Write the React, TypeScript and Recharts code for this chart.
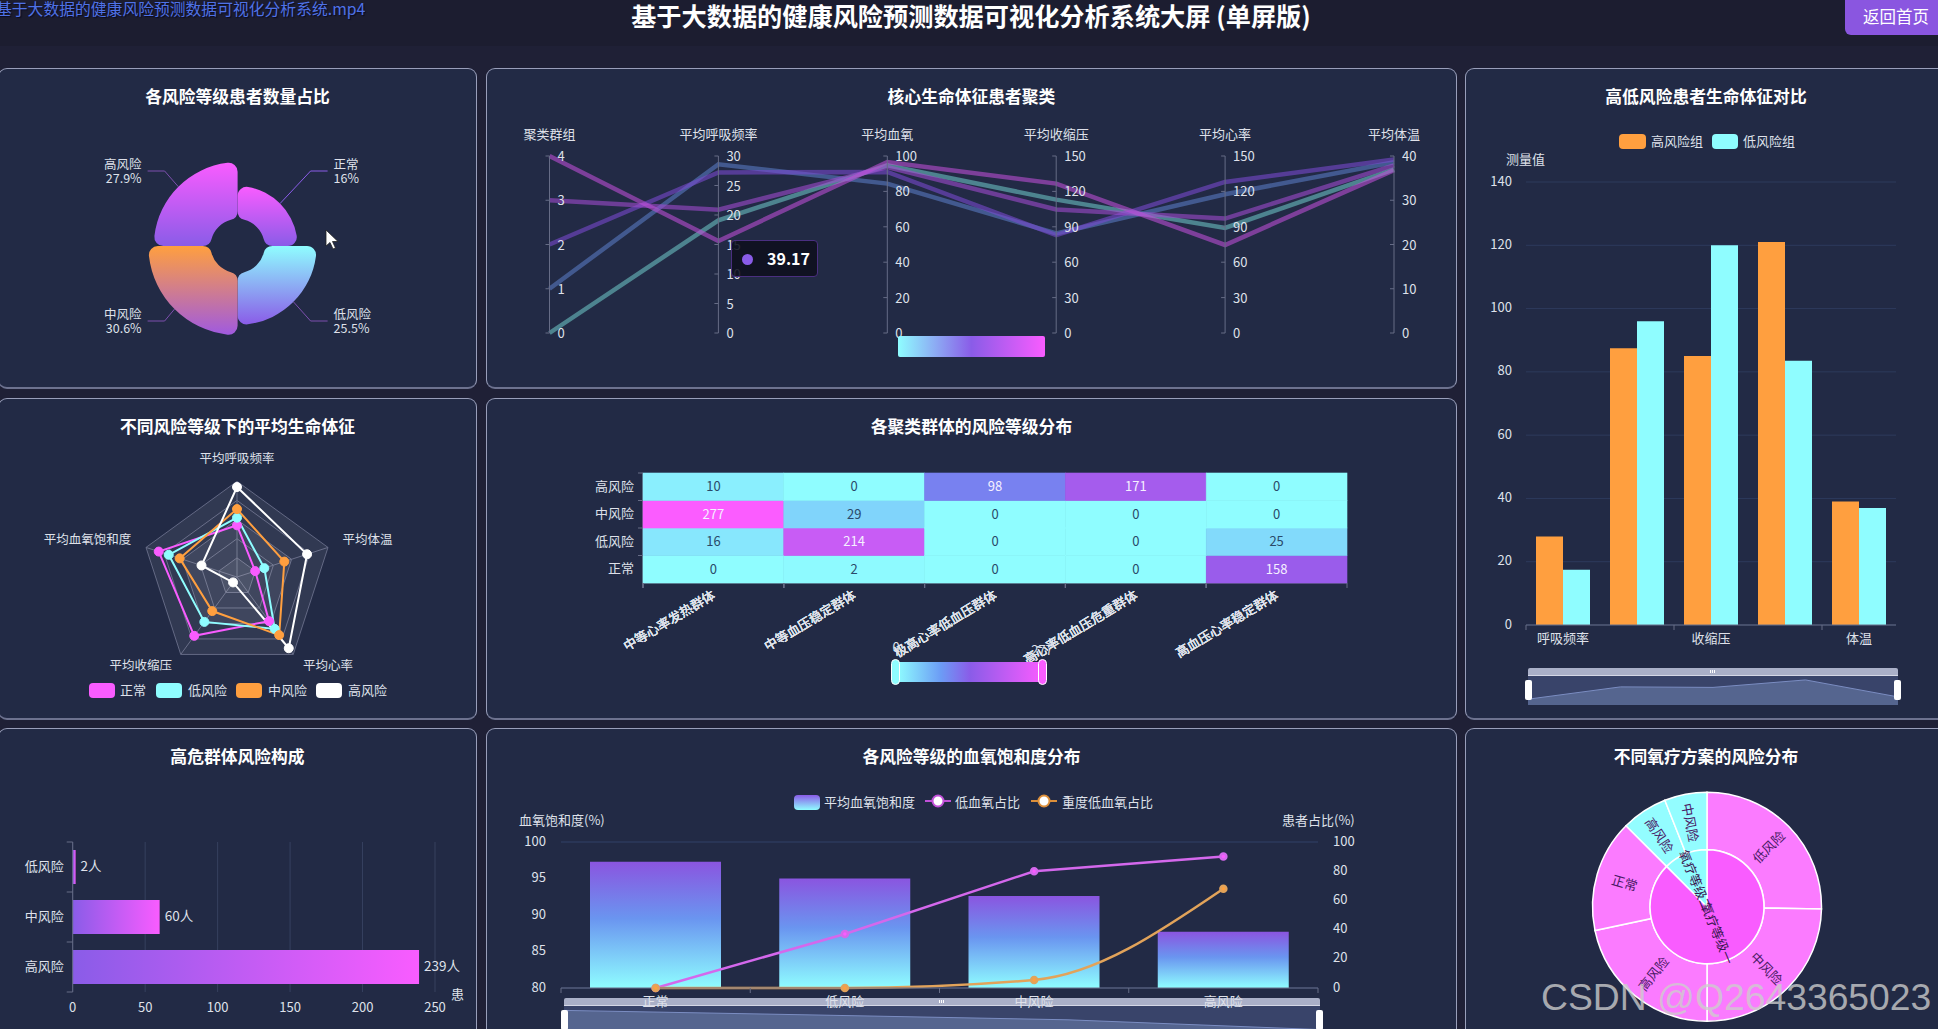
import React from 'react';
import {
  Area, AreaChart, Bar, BarChart, CartesianGrid, Cell, ComposedChart, LabelList, Line, LineChart, Pie, PieChart,
  PolarAngleAxis, PolarGrid, PolarRadiusAxis, Radar, RadarChart, Scatter, ScatterChart, XAxis, YAxis,
} from 'recharts';

const FONT = '"Noto Sans CJK SC","Noto Sans",sans-serif';
const TEXT = '#dfe1ea';
const AXIS = '#666c86';
const GRID = '#2d3a5c';
const CYAN = '#8ffdff';
const PURPLE = '#8a5ce8';
const PINK = '#f95cff';
const ORANGE = '#ff9f3f';

// risk share (rose)
const riskNames = ['正常', '低风险', '中风险', '高风险'];
const riskShares = [16, 25.5, 30.6, 27.9];

// parallel coordinates
const parallelDims = ['聚类群组', '平均呼吸频率', '平均血氧', '平均收缩压', '平均心率', '平均体温'];
const parallelTicks = [
  [0, 1, 2, 3, 4],
  [0, 5, 10, 15, 20, 25, 30],
  [0, 20, 40, 60, 80, 100],
  [0, 30, 60, 90, 120, 150],
  [0, 30, 60, 90, 120, 150],
  [0, 10, 20, 30, 40],
];
const cluster0 = [0, 19.1, 94.7, 113, 89, 37];
const cluster1 = [1, 28.6, 84.4, 84.4, 117.6, 38.6];
const cluster2 = [2, 27.2, 91, 83, 128, 39.2];
const cluster3 = [3, 20.9, 93.8, 104.7, 97, 37.9];
const cluster4 = [4, 15.6, 96.6, 126.6, 74.6, 36.8];
const clusterColors = ['#6cc4c4', '#5a7cc4', '#7a4ad0', '#a24cd0', '#c050d8'];

// high / low comparison
const vitalNames = ['呼吸频率', '血氧', '收缩压', '心率', '体温'];
const highGroup = [28, 87.5, 85, 121, 39];
const lowGroup = [17.5, 96, 120, 83.5, 37];
const vitalTicks = [0, 20, 40, 60, 80, 100, 120, 140];

// radar, scores in % of each axis maximum
const radarAxes = ['平均呼吸频率', '平均体温', '平均心率', '平均收缩压', '平均血氧饱和度'];
const radarNormal = [54, 20, 57, 76, 86];
const radarLow = [62, 30, 67, 58, 75];
const radarMid = [71, 52, 75, 44, 63];
const radarHigh = [94, 77, 92, 7, 39];
const ringLevels = [100, 60, 20];

// heatmap
const clusterGroups = ['中等心率发热群体', '中等血压稳定群体', '极高心率低血压群体', '高心率低血压危重群体', '高血压心率稳定群体'];
const heatLevels = ['正常', '低风险', '中风险', '高风险'];
const heatCounts = [
  [0, 2, 0, 0, 158],
  [16, 214, 0, 0, 25],
  [277, 29, 0, 0, 0],
  [10, 0, 98, 171, 0],
];

// high risk group
const groupLevels = ['低风险', '中风险', '高风险'];
const groupCounts = [2, 60, 239];

// blood oxygen
const oxygenLevels = ['正常', '低风险', '中风险', '高风险'];
const oxygenAvg = [97.3, 95, 92.6, 87.7];
const lowOxygen = [0, 37, 80, 90];
const severeOxygen = [0, 0, 5.5, 68];

// sunburst
const therapyInner = [{name: '氧疗等级一', value: 525}, {name: '氧疗等级二', value: 75}];
const therapyOuter = [
  {name: '低风险', value: 152, parent: 0},
  {name: '中风险', value: 148, parent: 0},
  {name: '高风险', value: 130, parent: 0},
  {name: '正常', value: 95, parent: 0},
  {name: '高风险', value: 39, parent: 1},
  {name: '中风险', value: 36, parent: 1},
];

const parallelRows = parallelDims.map((dim, i) => {
  const max = parallelTicks[i][parallelTicks[i].length - 1];
  return {
    dim,
    c0: cluster0[i] / max,
    c1: cluster1[i] / max,
    c2: cluster2[i] / max,
    c3: cluster3[i] / max,
    c4: cluster4[i] / max,
  };
});
const vitalRows = vitalNames.map((name, i) => ({name, high: highGroup[i], low: lowGroup[i]}));
const radarRows = radarAxes.map((axis, i) => ({
  axis, normal: radarNormal[i], low: radarLow[i], mid: radarMid[i], high: radarHigh[i],
}));
const heatRows = heatLevels.flatMap((level, r) => clusterGroups.map((group, c) => ({group, level, count: heatCounts[r][c]})));
const groupRows = groupLevels.map((name, i) => ({name, count: groupCounts[i]}));
const oxygenRows = oxygenLevels.map((name, i) => ({name, avg: oxygenAvg[i], low: lowOxygen[i], severe: severeOxygen[i]}));

const hex = (c: string) => [1, 3, 5].map(i => parseInt(c.slice(i, i + 2), 16));
const heatStops: [number, string][] = [[0, '#8ffdff'], [0.25, '#6c9cf5'], [0.5, '#8a5ce8'], [1, '#fb5cff']];
function heatColor(count: number) {
  const t = count / 277;
  let i = 0;
  while (i < heatStops.length - 2 && t > heatStops[i + 1][0]) i++;
  const [t0, c0] = heatStops[i];
  const [t1, c1] = heatStops[i + 1];
  const a = hex(c0);
  const b = hex(c1);
  const k = (t - t0) / (t1 - t0);
  return `rgb(${a.map((v, j) => Math.round(v + (b[j] - v) * k)).join(',')})`;
}

function Panel({x, y, w, h, title, children}: any) {
  return (
    <div style={{position: 'absolute', left: x, top: y, width: w, height: h, background: '#222a45', borderRadius: 9}}>
      {children}
      <div style={{
        position: 'absolute', inset: 0, boxSizing: 'border-box', borderRadius: 9, pointerEvents: 'none',
        border: '1px solid rgba(200,204,232,.72)', borderBottom: '2px solid #6d728f',
      }}/>
      <div style={{
        position: 'absolute', left: 0, width: w, top: 15, height: 26, lineHeight: '26px', textAlign: 'center',
        color: '#fff', fontSize: 16.8, fontWeight: 700,
      }}>{title}</div>
    </div>
  );
}

function Swatch({x, y, w = 26, h = 15, bg}: any) {
  return <div style={{position: 'absolute', left: x, top: y, width: w, height: h, background: bg, borderRadius: 4}}/>;
}

function Caption({x, y, anchor = 'start', size = 13, color = TEXT, children}: any) {
  const tx = anchor === 'end' ? '-100%' : anchor === 'middle' ? '-50%' : '0';
  return (
    <div style={{
      position: 'absolute', left: x, top: y - 1.5, transform: `translate(${tx},-50%)`, whiteSpace: 'nowrap',
      fontSize: size, color, lineHeight: 1,
    }}>{children}</div>
  );
}

// echarts style dataZoom strip
function DataZoom({x, y, w, h, data, dataKey, domain}: any) {
  return (
    <div style={{position: 'absolute', left: x, top: y, width: w}}>
      <div style={{height: 7, background: '#aab0c8', borderRadius: '2px 2px 0 0', position: 'relative'}}>
        <div style={{
          position: 'absolute', left: w / 2 - 3, top: 2, width: 6, height: 3,
          background: 'repeating-linear-gradient(90deg,#fff 0 1px,transparent 1px 2px)',
        }}/>
      </div>
      <div style={{position: 'relative', width: w, height: h, background: '#39446a', borderTop: '1px solid #d5d8e6', boxSizing: 'border-box'}}>
        <AreaChart width={w} height={h} data={data} margin={{top: 0, right: 0, bottom: 0, left: 0}}>
          <XAxis dataKey="name" hide/>
          <YAxis hide domain={domain} allowDataOverflow/>
          <Area dataKey={dataKey} type="linear" stroke="#7b8dc2" strokeWidth={1} fill="#55658f" fillOpacity={1} isAnimationActive={false} dot={false}/>
        </AreaChart>
      </div>
      <div style={{position: 'absolute', left: -3, top: 12, width: 7, height: 20, background: '#fff', borderRadius: 2}}/>
      <div style={{position: 'absolute', left: w - 4, top: 12, width: 7, height: 20, background: '#fff', borderRadius: 2}}/>
    </div>
  );
}

const roseRadius = (share: number) => 28 + share * 2;
const roseFills = ['roseNormal', 'roseLow', 'roseMid', 'roseHigh'];

function roseLabel(props: any) {
  const {cx, cy, midAngle, outerRadius, name, share} = props;
  const rad = (midAngle * Math.PI) / 180;
  const sx = Math.cos(rad) > 0 ? 1 : -1;
  const sy = Math.sin(rad) > 0 ? -1 : 1;
  const px = cx + outerRadius * Math.cos(rad);
  const py = cy - outerRadius * Math.sin(rad);
  const ex = cx + sx * 73;
  const ey = cy + sy * 75;
  const anchor = sx > 0 ? 'start' : 'end';
  const tx = cx + sx * 96;
  return (
    <g>
      <polyline points={`${px},${py} ${ex},${ey} ${cx + sx * 90},${ey}`} fill="none" stroke={sx > 0 && sy < 0 ? '#8a5ce8' : '#7d4fae'} strokeWidth={1}/>
      <text x={tx} y={ey - 8} textAnchor={anchor} dominantBaseline="central" fill={TEXT} fontSize={12.5}>{name}</text>
      <text x={tx} y={ey + 6} textAnchor={anchor} dominantBaseline="central" fill={TEXT} fontSize={12.5}>{share}%</text>
    </g>
  );
}

function RoseChart() {
  return (
    <PieChart width={479} height={320} margin={{top: 0, right: 0, bottom: 0, left: 0}}>
      <defs>
        <linearGradient id="roseNormal" x1="0" y1="0" x2="0" y2="1"><stop offset="0" stopColor={PINK}/><stop offset="1" stopColor={PURPLE}/></linearGradient>
        <linearGradient id="roseLow" x1="0" y1="0" x2="0" y2="1"><stop offset="0" stopColor={CYAN}/><stop offset="1" stopColor={PURPLE}/></linearGradient>
        <linearGradient id="roseMid" x1="0" y1="0" x2="0" y2="1"><stop offset="0" stopColor={ORANGE}/><stop offset="1" stopColor="#a05adf"/></linearGradient>
        <linearGradient id="roseHigh" x1="0" y1="0" x2="0" y2="1"><stop offset="0" stopColor={PINK}/><stop offset="1" stopColor={PURPLE}/></linearGradient>
      </defs>
      {riskNames.map((name, i) => (
        <Pie
          key={name}
          data={[{name, share: riskShares[i]}]}
          dataKey="share"
          cx={239.6}
          cy={178}
          startAngle={90 - i * 90}
          endAngle={-i * 90}
          innerRadius={27}
          outerRadius={roseRadius(riskShares[i])}
          cornerRadius={9}
          stroke="none"
          label={roseLabel}
          labelLine={false}
          isAnimationActive={false}
        >
          <Cell fill={`url(#${roseFills[i]})`}/>
        </Pie>
      ))}
    </PieChart>
  );
}

// one tick draws the whole parallel axis, x comes from the point scale
const PAR_TOP = 88;
const PAR_BOTTOM = 265;
function ParallelTick({x, index, payload}: any) {
  const ticks = parallelTicks[index];
  const max = ticks[ticks.length - 1];
  return (
    <g>
      <text x={x} y={65} textAnchor="middle" dominantBaseline="central" fill={TEXT} fontSize={13}>{payload.value}</text>
      <line x1={x} x2={x} y1={PAR_TOP} y2={PAR_BOTTOM} stroke={AXIS}/>
      {ticks.map(t => {
        const ty = PAR_BOTTOM - (t / max) * (PAR_BOTTOM - PAR_TOP);
        return (
          <g key={t}>
            <line x1={x - 4} x2={x} y1={ty} y2={ty} stroke={AXIS}/>
            <text x={x + 8} y={ty - 0.5} dominantBaseline="central" fill={TEXT} fontSize={13}>{t}</text>
          </g>
        );
      })}
    </g>
  );
}

function ParallelChart() {
  return (
    <LineChart width={971} height={320} data={parallelRows} margin={{top: PAR_TOP - 30, right: 63, bottom: 55, left: 63.5}}>
      <XAxis dataKey="dim" orientation="top" height={30} axisLine={false} tickLine={false} interval={0} tick={<ParallelTick/>}/>
      <YAxis hide domain={[0, 1]}/>
      {clusterColors.map((color, i) => (
        <Line key={color} dataKey={`c${i}`} type="linear" stroke={color} strokeWidth={4.5} strokeOpacity={0.58} dot={false} isAnimationActive={false}/>
      ))}
    </LineChart>
  );
}

function makeBoundaryTick(band: number, last: number, labelY: number) {
  return function BoundaryTick({x, y, index, payload}: any) {
    return (
      <g>
        <line x1={x - band / 2} x2={x - band / 2} y1={y - 8} y2={y - 3} stroke={AXIS}/>
        {index === last && <line x1={x + band / 2} x2={x + band / 2} y1={y - 8} y2={y - 3} stroke={AXIS}/>}
        <text x={x} y={labelY} textAnchor="middle" dominantBaseline="central" fill={TEXT} fontSize={13}>{payload.value}</text>
      </g>
    );
  };
}

const VitalTick = makeBoundaryTick(74, 4, 637 - 68);
// the hidden labels still keep their tick marks
function VitalAxisTick(props: any) {
  return <VitalTick {...props}/>;
}

const valueTick = {fill: TEXT, fontSize: 13, dy: -1};

function VitalsChart() {
  return (
    <BarChart width={482} height={651} data={vitalRows} margin={{top: 114, right: 51, bottom: 64, left: 0}} barGap={0} barSize={27}>
      <CartesianGrid vertical={false} stroke={GRID}/>
      <XAxis dataKey="name" height={30} interval={1} stroke={AXIS} tickLine={false} tick={<VitalAxisTick/>}/>
      <YAxis width={61} domain={[0, 140]} ticks={vitalTicks} axisLine={false} tickLine={false} tick={valueTick} tickMargin={8}/>
      <Bar dataKey="high" fill={ORANGE} isAnimationActive={false}/>
      <Bar dataKey="low" fill={CYAN} isAnimationActive={false}/>
    </BarChart>
  );
}

const radarLabelShift = [[0, -16], [7, -6], [5, 4], [-4, 4], [-7, -6]];
function RadarTick({x, y, index, textAnchor, payload}: any) {
  const [dx, dy] = radarLabelShift[index];
  return <text x={x + dx} y={y + dy} textAnchor={textAnchor} dominantBaseline="central" fill={TEXT} fontSize={12.5}>{payload.value}</text>;
}

const radarDot = (color: string) => ({r: 4.5, fill: color, stroke: color, strokeWidth: 1, fillOpacity: 1});

function VitalRadar() {
  const series: [string, string][] = [['normal', PINK], ['low', CYAN], ['mid', ORANGE], ['high', '#ffffff']];
  return (
    <RadarChart width={479} height={321} cx={239} cy={179} outerRadius={95.7} data={radarRows} margin={{top: 0, right: 0, bottom: 0, left: 0}}>
      <PolarGrid gridType="polygon" stroke="#5e6480"/>
      <PolarRadiusAxis domain={[0, 100]} tickCount={6} tick={false} axisLine={false}/>
      <PolarAngleAxis dataKey="axis" tick={<RadarTick/>} tickLine={false} axisLine={false}/>
      {ringLevels.map(level => (
        <Radar key={level} dataKey={() => level} stroke="none" fill="#ffffff" fillOpacity={0.07} dot={false} isAnimationActive={false} legendType="none"/>
      ))}
      {series.map(([key, color]) => (
        <Radar key={key} dataKey={key} stroke={color} strokeWidth={2} fill="none" fillOpacity={0} dot={radarDot(color)} isAnimationActive={false}/>
      ))}
    </RadarChart>
  );
}

const HEAT_W = 704 / clusterGroups.length;
const HEAT_H = 110 / heatLevels.length;

function HeatCell({cx, cy, payload}: any) {
  const dark = payload.count < 60;
  const fill = heatColor(payload.count);
  return (
    <g>
      <rect x={cx - HEAT_W / 2} y={cy - HEAT_H / 2} width={HEAT_W} height={HEAT_H} fill={fill} stroke={fill} strokeWidth={0.6}/>
      <text x={cx} y={cy - 1} textAnchor="middle" dominantBaseline="central" fontSize={13} fill={dark ? '#2a4a6a' : '#f5f0ff'}>{payload.count}</text>
    </g>
  );
}

function HeatXTick({x, y, index, payload}: any) {
  return (
    <g>
      <line x1={x - HEAT_W / 2} x2={x - HEAT_W / 2} y1={y - 8} y2={y - 3} stroke={AXIS}/>
      {index === clusterGroups.length - 1 && <line x1={x + HEAT_W / 2} x2={x + HEAT_W / 2} y1={y - 8} y2={y - 3} stroke={AXIS}/>}
      <text x={x} y={y + 2} textAnchor="end" fill={TEXT} fontSize={13} dominantBaseline="central" transform={`rotate(-31 ${x} ${y + 2})`}>{payload.value}</text>
    </g>
  );
}

function HeatYTick({x, y, payload}: any) {
  return (
    <g>
      <line x1={x + 3} x2={x + 8} y1={y - HEAT_H / 2} y2={y - HEAT_H / 2} stroke={AXIS}/>
      <text x={x - 1} y={y - 1.5} textAnchor="end" dominantBaseline="central" fill={TEXT} fontSize={13}>{payload.value}</text>
    </g>
  );
}

function HeatChart() {
  return (
    <ScatterChart width={971} height={321} margin={{top: 75, right: 110, bottom: 0, left: 0}}>
      <XAxis dataKey="group" type="category" scale="band" allowDuplicatedCategory={false} height={136} interval={0} stroke={AXIS} tickLine={false} tick={<HeatXTick/>}/>
      <YAxis dataKey="level" type="category" scale="band" allowDuplicatedCategory={false} width={157} interval={0} stroke={AXIS} tickLine={false} tick={<HeatYTick/>}/>
      <Scatter data={heatRows} shape={<HeatCell/>} isAnimationActive={false}/>
    </ScatterChart>
  );
}

function GroupYTick({x, y, index, payload}: any) {
  return (
    <g>
      <line x1={x + 2} x2={x + 8} y1={y - 25} y2={y - 25} stroke={AXIS}/>
      {index === groupLevels.length - 1 && <line x1={x + 2} x2={x + 8} y1={y + 25} y2={y + 25} stroke={AXIS}/>}
      <text x={x - 1} y={y - 1.5} textAnchor="end" dominantBaseline="central" fill={TEXT} fontSize={13}>{payload.value}</text>
    </g>
  );
}

function GroupChart() {
  return (
    <BarChart layout="vertical" width={479} height={312} data={groupRows} margin={{top: 114, right: 42, bottom: 18, left: 0}} barSize={34}>
      <defs>
        <linearGradient id="groupBar" x1="0" y1="0" x2="1" y2="0"><stop offset="0" stopColor={PURPLE}/><stop offset="1" stopColor={PINK}/></linearGradient>
      </defs>
      <CartesianGrid horizontal={false} stroke="#36415f"/>
      <XAxis type="number" domain={[0, 250]} ticks={[0, 50, 100, 150, 200, 250]} height={30} axisLine={false} tickLine={false} tick={{fill: TEXT, fontSize: 13}} tickMargin={5}/>
      <YAxis type="category" dataKey="name" width={74.7} stroke={AXIS} tickLine={false} tick={<GroupYTick/>}/>
      <Bar dataKey="count" fill="url(#groupBar)" isAnimationActive={false}>
        <LabelList dataKey="count" position="right" formatter={(v: any) => `${v}人`} fill={TEXT} fontSize={13.5} dy={-1}/>
      </Bar>
    </BarChart>
  );
}

const OxygenTick = makeBoundaryTick(757 / 4, 3, 1000 - 728);
function OxygenAxisTick(props: any) {
  return <OxygenTick {...props}/>;
}

function OxygenChart() {
  return (
    <ComposedChart width={971} height={312} data={oxygenRows} margin={{top: 114, right: 79, bottom: 22, left: 0}} barSize={131}>
      <defs>
        <linearGradient id="oxygenBar" x1="0" y1="0" x2="0" y2="1"><stop offset="0" stopColor="#8a55e0"/><stop offset="0.45" stopColor="#6a95f0"/><stop offset="1" stopColor={CYAN}/></linearGradient>
      </defs>
      <CartesianGrid vertical={false} stroke={GRID} strokeWidth={1.5}/>
      <XAxis dataKey="name" height={30} interval={0} stroke={AXIS} tickLine={false} tick={<OxygenAxisTick/>}/>
      <YAxis yAxisId="left" width={75} domain={[80, 100]} ticks={[80, 85, 90, 95, 100]} allowDataOverflow axisLine={false} tickLine={false} tick={valueTick} tickMargin={9}/>
      <YAxis yAxisId="right" orientation="right" width={60} domain={[0, 100]} ticks={[0, 20, 40, 60, 80, 100]} axisLine={false} tickLine={false} tick={valueTick} tickMargin={9}/>
      <Bar yAxisId="left" dataKey="avg" fill="url(#oxygenBar)" isAnimationActive={false}/>
      <Line yAxisId="right" dataKey="low" type="linear" stroke="#d468ec" strokeWidth={2.5} dot={{r: 3, fill: PINK, stroke: '#d468ec'}} isAnimationActive={false}/>
      <Line yAxisId="right" dataKey="severe" type="monotone" stroke="#e2a35a" strokeWidth={2.5} dot={{r: 3, fill: ORANGE, stroke: '#e2a35a'}} isAnimationActive={false}/>
    </ComposedChart>
  );
}

function sunLabel(color: (p: any) => string) {
  return function SunLabel(props: any) {
    const {cx, cy, midAngle, innerRadius, outerRadius, name} = props;
    const r = (innerRadius + outerRadius) / 2;
    const rad = (midAngle * Math.PI) / 180;
    const x = cx + r * Math.cos(rad);
    const y = cy - r * Math.sin(rad);
    const cw = ((90 - midAngle) % 360 + 360) % 360;
    const rot = cw < 180 ? cw - 90 : cw - 270;
    return (
      <text x={x} y={y} textAnchor="middle" dominantBaseline="central" fontSize={13} fill={color(props)} transform={`rotate(${rot} ${x} ${y})`}>{name}</text>
    );
  };
}

function TherapyChart() {
  const innerFills = ['#f95cff', CYAN];
  const outerFills = ['#fb7bff', '#93fdff'];
  return (
    <PieChart width={482} height={312} margin={{top: 0, right: 0, bottom: 0, left: 0}}>
      <Pie data={therapyOuter} dataKey="value" cx={242} cy={178.7} startAngle={90} endAngle={-270} innerRadius={57} outerRadius={114.5} stroke="#fff" strokeWidth={1.5} label={sunLabel(() => '#4a1a66')} labelLine={false} isAnimationActive={false}>
        {therapyOuter.map((d, i) => <Cell key={i} fill={outerFills[d.parent]}/>)}
      </Pie>
      <Pie data={therapyInner} dataKey="value" cx={242} cy={178.7} startAngle={90} endAngle={-270} innerRadius={0} outerRadius={57} stroke="#fff" strokeWidth={1.5} label={sunLabel(() => '#3a1650')} labelLine={false} isAnimationActive={false}>
        {therapyInner.map((d, i) => <Cell key={d.name} fill={innerFills[i]}/>)}
      </Pie>
    </PieChart>
  );
}

function LineIcon({x, y, color}: any) {
  return (
    <svg style={{position: 'absolute', left: x, top: y - 9}} width={26} height={16}>
      <line x1={0} x2={26} y1={8} y2={8} stroke={color} strokeWidth={2}/>
      <circle cx={13} cy={8} r={5.5} fill="#fff" stroke={color} strokeWidth={2}/>
    </svg>
  );
}

export default function App() {
  return (
    <div style={{position: 'absolute', left: 0, top: 0, width: 1938, height: 1029, overflow: 'hidden', background: '#1f2036', fontFamily: FONT}}>
      <div style={{position: 'absolute', left: 0, top: 0, width: 1938, height: 46, background: '#1c1d30'}}/>
      <Caption x={-4} y={10} size={15.8} color="#4f72e6"><span style={{textShadow: '1px 1px 1px #0a0a20'}}>基于大数据的健康风险预测数据可视化分析系统.mp4</span></Caption>
      <Caption x={971} y={17} anchor="middle" size={25.2} color="#fff"><b>基于大数据的健康风险预测数据可视化分析系统大屏 (单屏版)</b></Caption>
      <div style={{
        position: 'absolute', left: 1845, top: 0, width: 93, height: 35, background: '#8a56e0', borderBottomLeftRadius: 6,
        color: '#fff', fontSize: 16.5, lineHeight: '32px', paddingLeft: 18, boxSizing: 'border-box',
      }}>返回首页</div>

      <Panel x={-2} y={68} w={479} h={321} title="各风险等级患者数量占比">
        <RoseChart/>
      </Panel>

      <Panel x={486} y={68} w={971} h={321} title="核心生命体征患者聚类">
        <ParallelChart/>
        <div style={{position: 'absolute', left: 412, top: 268, width: 147, height: 21, borderRadius: 2, background: `linear-gradient(90deg,${CYAN},${PURPLE} 50%,${PINK})`}}/>
        <div style={{
          position: 'absolute', left: 245, top: 172, width: 87, height: 37, boxSizing: 'border-box', background: 'rgba(14,15,30,.88)',
          border: '1px solid #4a2f80', borderRadius: 4,
        }}>
          <div style={{position: 'absolute', left: 10, top: 13, width: 11, height: 11, borderRadius: '50%', background: PURPLE}}/>
          <div style={{position: 'absolute', left: 35, top: 0, lineHeight: '35px', color: '#fff', fontSize: 16, fontWeight: 700}}>39.17</div>
        </div>
      </Panel>

      <Panel x={1465} y={68} w={482} h={652} title="高低风险患者生命体征对比">
        <VitalsChart/>
        <Swatch x={154} y={66} w={27} bg={ORANGE}/>
        <Caption x={186} y={73}>高风险组</Caption>
        <Swatch x={247} y={66} w={26} bg={CYAN}/>
        <Caption x={278} y={73}>低风险组</Caption>
        <Caption x={41} y={91}>测量值</Caption>
        <DataZoom x={63} y={600} w={370} h={29} data={vitalRows} dataKey="high" domain={[0, 140]}/>
      </Panel>

      <Panel x={-2} y={398} w={479} h={322} title="不同风险等级下的平均生命体征">
        <VitalRadar/>
        <Swatch x={91} y={285} bg={PINK}/>
        <Caption x={122} y={292}>正常</Caption>
        <Swatch x={158} y={285} bg={CYAN}/>
        <Caption x={190} y={292}>低风险</Caption>
        <Swatch x={238} y={285} bg={ORANGE}/>
        <Caption x={270} y={292}>中风险</Caption>
        <Swatch x={318} y={285} bg="#ffffff"/>
        <Caption x={350} y={292}>高风险</Caption>
      </Panel>

      <Panel x={486} y={398} w={971} h={322} title="各聚类群体的风险等级分布">
        <HeatChart/>
        <div style={{position: 'absolute', left: 411, top: 264, width: 146, height: 20, background: `linear-gradient(90deg,${CYAN},#6c9cf5 30%,${PURPLE} 50%,${PINK})`}}/>
        <div style={{position: 'absolute', left: 405, top: 261, width: 9, height: 26, boxSizing: 'border-box', borderRadius: 5, background: CYAN, border: '1.5px solid #fff'}}/>
        <div style={{position: 'absolute', left: 552, top: 261, width: 9, height: 26, boxSizing: 'border-box', borderRadius: 5, background: PINK, border: '1.5px solid #fff'}}/>
        <Caption x={410} y={249} anchor="middle">0</Caption>
        <Caption x={556} y={252} anchor="middle">277</Caption>
      </Panel>

      <Panel x={-2} y={728} w={479} h={312} title="高危群体风险构成">
        <GroupChart/>
        <Caption x={453} y={266}>患</Caption>
      </Panel>

      <Panel x={486} y={728} w={971} h={312} title="各风险等级的血氧饱和度分布">
        <DataZoom x={78} y={270} w={756} h={29} data={oxygenRows} dataKey="avg" domain={[85, 99.5]}/>
        <OxygenChart/>
        <div style={{position: 'absolute', left: 308, top: 67, width: 26, height: 15, borderRadius: 4, background: `linear-gradient(180deg,${PURPLE},${CYAN})`}}/>
        <Caption x={338} y={74}>平均血氧饱和度</Caption>
        <LineIcon x={439} y={74} color="#c050d8"/>
        <Caption x={469} y={74}>低血氧占比</Caption>
        <LineIcon x={545} y={74} color="#dd8f3a"/>
        <Caption x={576} y={74}>重度低血氧占比</Caption>
        <Caption x={33} y={92}>血氧饱和度(%)</Caption>
        <Caption x={796} y={92}>患者占比(%)</Caption>
      </Panel>

      <Panel x={1465} y={728} w={482} h={312} title="不同氧疗方案的风险分布">
        <TherapyChart/>
      </Panel>

      <svg style={{position: 'absolute', left: 325, top: 229}} width={16} height={22}>
        <path d="M1 1 L1 17 L5 13.5 L8 20 L10.5 19 L7.5 12.5 L13 12.5 Z" fill="#fff" stroke="#222" strokeWidth={0.8}/>
      </svg>
      <div style={{
        position: 'absolute', left: 1541, top: 976, fontFamily: '"Liberation Sans",sans-serif', fontSize: 37.3, lineHeight: '42px',
        color: 'rgba(205,205,205,.78)', whiteSpace: 'nowrap',
      }}>CSDN @Q2643365023</div>
    </div>
  );
}
